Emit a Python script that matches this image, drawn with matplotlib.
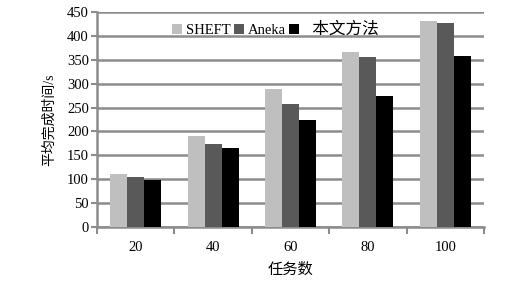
import matplotlib
matplotlib.use('Agg')
import numpy as np
import matplotlib.pyplot as plt

plt.rcParams['font.family'] = ['Liberation Serif', 'Noto Sans CJK SC']

# data
task_counts = ['20', '40', '60', '80', '100']
sheft = [110, 190, 288, 366, 431]
aneka = [104, 174, 258, 356, 427]
ours = [98, 165, 224, 274, 358]

series = [('SHEFT', sheft, '#bfbfbf'),
          ('Aneka', aneka, '#595959'),
          ('  本文方法', ours, '#000000')]

fig = plt.figure(figsize=(5.11, 2.85), dpi=100)
ax = fig.add_axes([0.19, 0.2035, 0.757, 0.7545])

x = np.arange(len(task_counts))
w = 0.22
for i, (name, vals, col) in enumerate(series):
    ax.bar(x + (i - 1) * w, vals, width=w, color=col, label=name, zorder=3)

ax.set_xlim(-0.5, len(task_counts) - 0.5)
ax.set_ylim(0, 450)
ax.set_yticks(np.arange(0, 451, 50))
ax.set_xticks(x)
ax.set_xticklabels(task_counts)
ax.set_xticks(np.arange(-0.5, len(task_counts)), minor=True)
ax.tick_params(axis='x', which='major', length=0, pad=10, labelsize=10.5)
ax.tick_params(axis='x', which='minor', length=5, width=1.5, color='#8c8c8c', direction='out')
ax.tick_params(axis='y', length=4, width=1.5, color='#8c8c8c', labelsize=10.5, pad=2)

ax.grid(axis='y', color='#8c8c8c', linewidth=1.8, zorder=0)
for s in ['top', 'right']:
    ax.spines[s].set_visible(False)
for s in ['left', 'bottom']:
    ax.spines[s].set_color('#8c8c8c')
    ax.spines[s].set_linewidth(1.8)

ax.set_ylabel('平均完成时间/s', fontsize=10, labelpad=8)
ax.set_xlabel('任务数', fontsize=11, labelpad=6)

leg = ax.legend(loc='upper center', bbox_to_anchor=(0.46, 1.0), ncol=3, frameon=False,
                handlelength=0.7, handleheight=0.7, handletextpad=0.3,
                columnspacing=0.2, fontsize=10.5, borderaxespad=0.3)
leg.get_texts()[2].set_fontsize(12)

fig.savefig('out.png', dpi=100)
